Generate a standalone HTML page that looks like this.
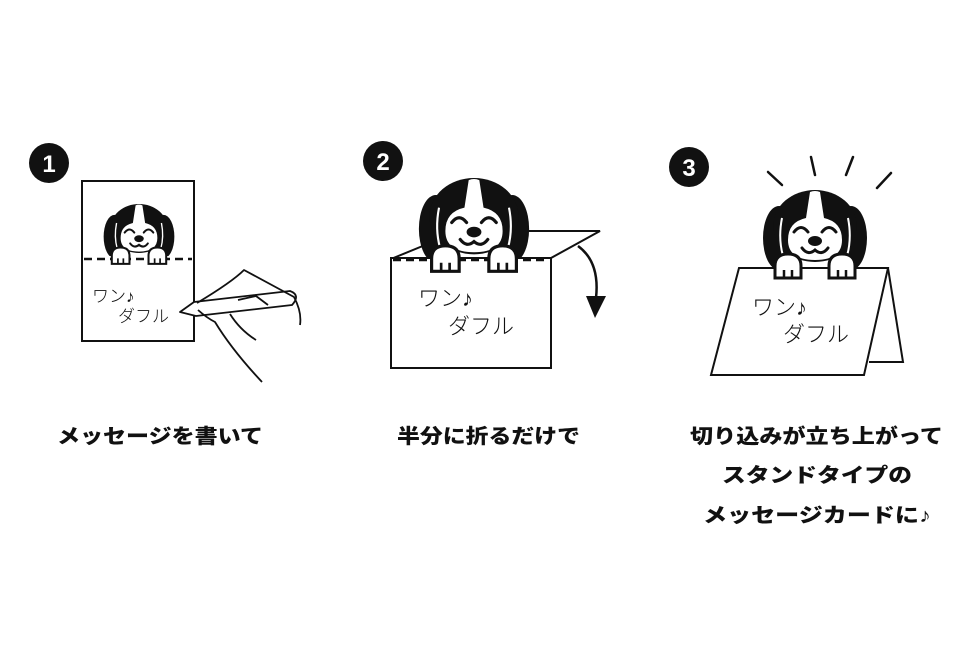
<!DOCTYPE html>
<html><head><meta charset="utf-8"><style>
html,body{margin:0;padding:0;background:#fff;}
svg{display:block}
.lbl{font-family:"Liberation Sans","Noto Sans CJK JP",sans-serif;font-weight:900;font-size:20px;fill:#111}
.hw{font-family:"Liberation Sans","Noto Sans CJK JP",sans-serif;font-weight:300;fill:#111}
.num{font-family:"Liberation Sans",sans-serif;font-weight:700;font-size:24px;fill:#fff}
</style></head><body>
<svg width="978" height="652" viewBox="0 0 978 652" xmlns="http://www.w3.org/2000/svg">
<defs>
<g id="head">
  <ellipse cx="-36" cy="48" rx="16" ry="32" fill="#111"/>
  <ellipse cx="36" cy="48" rx="16" ry="32" fill="#111"/>
  <ellipse cx="0" cy="36" rx="42" ry="36" fill="#111"/>
  <path d="M-5,2 Q0,0 5,2 L9,28 Q27,32 27,50 Q27,70 0,70 Q-27,70 -27,50 Q-27,32 -9,28 Z" fill="#fff"/>
  <path d="M-33,28 Q-37,48 -32,66" stroke="#fff" stroke-width="2" fill="none"/>
  <path d="M33,28 Q37,48 32,66" stroke="#fff" stroke-width="2" fill="none"/>
  <path d="M-21,42 Q-14,33 -7,42" stroke="#111" stroke-width="3" fill="none" stroke-linecap="round"/>
  <path d="M7,42 Q14,33 21,42" stroke="#111" stroke-width="3" fill="none" stroke-linecap="round"/>
  <ellipse cx="0" cy="51" rx="7" ry="5" fill="#111"/>
  <path d="M-13,58 Q-7,66 0,60 Q7,66 13,58" stroke="#111" stroke-width="3" fill="none" stroke-linecap="round"/>
</g>
<g id="paws" fill="#fff" stroke="#111" stroke-width="3">
  <path d="M-40,88 L-40,76 Q-40,64 -27,64 Q-14,64 -14,76 L-14,88 Z"/>
  <path d="M14,88 L14,76 Q14,64 27,64 Q40,64 40,76 L40,88 Z"/>
  <path d="M-31,80 v8 M-23,80 v8 M23,80 v8 M31,80 v8" stroke-width="2.5"/>
</g>
</defs>

<!-- numbers -->
<circle cx="49" cy="163" r="20" fill="#111"/><text x="49" y="172" text-anchor="middle" class="num">1</text>
<circle cx="383" cy="161" r="20" fill="#111"/><text x="383" y="170" text-anchor="middle" class="num">2</text>
<circle cx="689" cy="167" r="20" fill="#111"/><text x="689" y="176" text-anchor="middle" class="num">3</text>

<!-- panel 1 -->
<rect x="82" y="181" width="112" height="160" fill="#fff" stroke="#111" stroke-width="2"/>
<g transform="translate(139,204) scale(0.68)"><use href="#head"/></g>
<rect x="84" y="256" width="108" height="20" fill="#fff"/>
<line x1="84" y1="259" x2="192" y2="259" stroke="#111" stroke-width="2.5" stroke-dasharray="8,5"/>
<g transform="translate(139,204) scale(0.68)"><use href="#paws"/></g>
<text x="92" y="302" class="hw" font-size="17">ワン♪</text>
<text x="118" y="322" class="hw" font-size="17">ダフル</text>
<g stroke="#111" stroke-width="1.8" fill="none" stroke-linejoin="round">
  <path d="M180,312 L194,302 L290,291 Q301,295 292,305 L196,316 Z" fill="#fff"/>
  <path d="M197,303 Q232,282 244,270 L294,297 Q302,312 300,325"/>
  <path d="M198,310 Q207,318 215,322 Q232,350 262,382"/>
  <path d="M230,314 Q240,330 256,340"/>
  <path d="M238,300 L256,296 L268,305"/>
</g>

<!-- panel 2 -->
<path d="M391,259 L430,243" stroke="#111" stroke-width="2" fill="none"/>
<path d="M527,231 L600,231 L551,258" stroke="#111" stroke-width="2" fill="#fff"/>
<g transform="translate(474,178) scale(1.06)"><use href="#head"/></g>
<rect x="391" y="258" width="160" height="110" fill="#fff" stroke="#111" stroke-width="2"/>
<line x1="393" y1="260" x2="549" y2="260" stroke="#111" stroke-width="2.5" stroke-dasharray="8,5"/>
<g transform="translate(474,178) scale(1.06)"><use href="#paws"/></g>
<path d="M578,246 Q600,262 596,298" stroke="#111" stroke-width="2.5" fill="none"/>
<path d="M586,296 L606,296 L595,318 Z" fill="#111"/>
<text x="418" y="306" class="hw" font-size="22">ワン♪</text>
<text x="448" y="334" class="hw" font-size="22">ダフル</text>

<!-- panel 3 -->
<g stroke="#111" stroke-width="2.5" stroke-linecap="round">
  <line x1="768" y1="172" x2="782" y2="185"/>
  <line x1="811" y1="157" x2="815" y2="175"/>
  <line x1="853" y1="157" x2="846" y2="175"/>
  <line x1="891" y1="173" x2="877" y2="188"/>
</g>
<g transform="translate(815,190)"><use href="#head"/></g>
<path d="M888,268 L903,362 L869,362" stroke="#111" stroke-width="2" fill="#fff"/>
<path d="M739,268 L888,268 L864,375 L711,375 Z" stroke="#111" stroke-width="2" fill="#fff"/>
<g transform="translate(815,190)"><use href="#paws"/></g>
<text x="752" y="315" class="hw" font-size="22">ワン♪</text>
<text x="783" y="342" class="hw" font-size="22">ダフル</text>

<!-- labels -->
<text x="57" y="443" class="lbl" textLength="206" lengthAdjust="spacingAndGlyphs">メッセージを書いて</text>
<text x="397" y="443" class="lbl" textLength="183" lengthAdjust="spacingAndGlyphs">半分に折るだけで</text>
<text x="690" y="443" class="lbl" textLength="253" lengthAdjust="spacingAndGlyphs">切り込みが立ち上がって</text>
<text x="722" y="482" class="lbl" textLength="190" lengthAdjust="spacingAndGlyphs">スタンドタイプの</text>
<text x="703" y="522" class="lbl" textLength="228" lengthAdjust="spacingAndGlyphs">メッセージカードに♪</text>
</svg>
</body></html>
